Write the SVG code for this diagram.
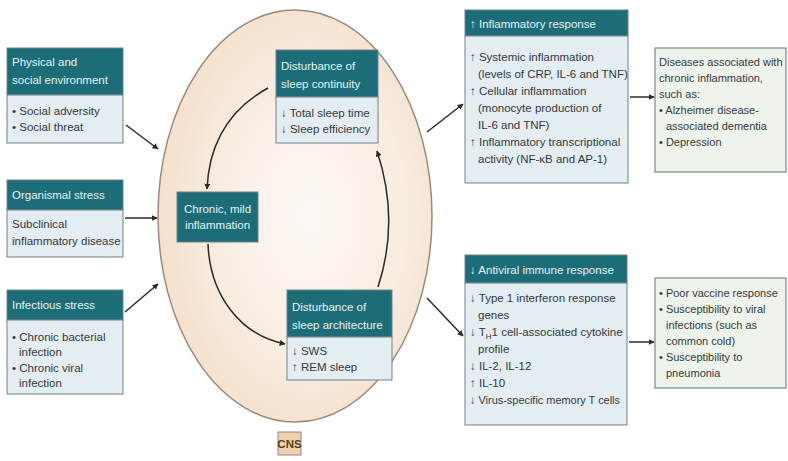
<svg xmlns="http://www.w3.org/2000/svg" width="788" height="461" viewBox="0 0 788 461">
<defs>
<radialGradient id="eg" cx="0.55" cy="0.5" r="0.55">
<stop offset="0" stop-color="#fdf9f5"/>
<stop offset="0.6" stop-color="#f9ede2"/>
<stop offset="1" stop-color="#f4e0cd"/>
</radialGradient>
<marker id="ah" viewBox="0 0 10 10" refX="9" refY="5" markerWidth="6" markerHeight="6" orient="auto" markerUnits="userSpaceOnUse">
<path d="M0,0 L10,5 L0,10 z" fill="#2a2a2a"/>
</marker>
<style>
.hd{fill:#1c6d78;stroke:#6f8388;stroke-width:1}
.bd{fill:#e3edf2;stroke:#6f8388;stroke-width:1}
.gr{fill:#eef4ec;stroke:#7b8a82;stroke-width:1.2}
text{font-family:"Liberation Sans",Arial,sans-serif;font-size:11.5px}
.ht{fill:#e4f4f4}
.bt{fill:#333a3e}
.sm{font-size:11px}
.cn{stroke:#2a2a2a;stroke-width:1.5;fill:none;marker-end:url(#ah)}
</style>
</defs>
<rect width="788" height="461" fill="#ffffff"/>
<g id="cns">
<ellipse cx="295" cy="216" rx="137" ry="206" fill="url(#eg)" stroke="#9b8a7a" stroke-width="1.5"/>
<rect x="278" y="432" width="23" height="23" fill="#efd2ad" stroke="#8a8a8a" stroke-width="1"/>
<text x="289.5" y="448" text-anchor="middle" font-size="10" font-weight="bold" fill="#5a3b20">CNS</text>
</g>
<g id="connectors">
<line class="cn" x1="126" y1="125" x2="158" y2="149"/>
<line class="cn" x1="125" y1="218" x2="157" y2="218"/>
<line class="cn" x1="125" y1="312" x2="158" y2="284"/>
<path class="cn" d="M268,88 Q210,120 207,189"/>
<path class="cn" d="M208,244 C210,295 240,335 285,344"/>
<path class="cn" d="M378,287 Q400,220 377,151"/>
<line class="cn" x1="427" y1="132" x2="463" y2="104"/>
<line class="cn" x1="427" y1="298" x2="463" y2="336"/>
<line class="cn" x1="630" y1="97" x2="654" y2="97"/>
<line class="cn" x1="629" y1="342" x2="654" y2="342"/>
</g>
<g id="physical">
<rect class="hd" x="7" y="48" width="116" height="47"/>
<rect class="bd" x="7" y="95" width="116" height="48"/>
<text class="ht" x="12" y="66">Physical and</text>
<text class="ht" x="12" y="84">social environment</text>
<text class="bt" x="12" y="115">• Social adversity</text>
<text class="bt" x="12" y="131">• Social threat</text>
</g>
<g id="organismal">
<rect class="hd" x="7" y="180" width="116" height="30"/>
<rect class="bd" x="7" y="210" width="116" height="47"/>
<text class="ht" x="12" y="199">Organismal stress</text>
<text class="bt" x="12" y="228">Subclinical</text>
<text class="bt" x="12" y="245">inflammatory disease</text>
</g>
<g id="infectious">
<rect class="hd" x="7" y="290" width="116" height="30"/>
<rect class="bd" x="7" y="320" width="116" height="74"/>
<text class="ht" x="12" y="309">Infectious stress</text>
<text class="bt" x="12" y="341">• Chronic bacterial</text>
<text class="bt" x="19" y="356">infection</text>
<text class="bt" x="12" y="372">• Chronic viral</text>
<text class="bt" x="19" y="387">infection</text>
</g>
<g id="chronic">
<rect class="hd" x="177" y="192" width="81" height="50"/>
<text class="ht" x="217.5" y="213" text-anchor="middle">Chronic, mild</text>
<text class="ht" x="217.5" y="229" text-anchor="middle">inflammation</text>
</g>
<g id="continuity">
<rect class="hd" x="276" y="50" width="102" height="47"/>
<rect class="bd" x="276" y="97" width="102" height="46"/>
<text class="ht" x="281" y="70">Disturbance of</text>
<text class="ht" x="281" y="88">sleep continuity</text>
<text class="bt" x="281" y="117">↓ Total sleep time</text>
<text class="bt" x="281" y="133">↓ Sleep efficiency</text>
</g>
<g id="architecture">
<rect class="hd" x="287" y="290" width="105" height="47"/>
<rect class="bd" x="287" y="337" width="105" height="43"/>
<text class="ht" x="292" y="311">Disturbance of</text>
<text class="ht" x="292" y="329">sleep architecture</text>
<text class="bt" x="292" y="355">↓ SWS</text>
<text class="bt" x="292" y="371">↑ REM sleep</text>
</g>
<g id="inflammatory">
<rect class="hd" x="465" y="10" width="163" height="26"/>
<rect class="bd" x="465" y="36" width="163" height="147"/>
<text class="ht" x="470" y="28" font-size="12.5">↑ Inflammatory response</text>
<text class="bt" x="470" y="61">↑ Systemic inflammation</text>
<text class="bt" x="478" y="78">(levels of CRP, IL-6 and TNF)</text>
<text class="bt" x="470" y="95">↑ Cellular inflammation</text>
<text class="bt" x="478" y="112">(monocyte production of</text>
<text class="bt" x="478" y="129">IL-6 and TNF)</text>
<text class="bt" x="470" y="146">↑ Inflammatory transcriptional</text>
<text class="bt" x="478" y="163">activity (NF-κB and AP-1)</text>
</g>
<g id="antiviral">
<rect class="hd" x="465" y="255" width="162" height="28"/>
<rect class="bd" x="465" y="283" width="162" height="142"/>
<text class="ht" x="470" y="274" font-size="12.5">↓ Antiviral immune response</text>
<text class="bt" x="470" y="302">↓ Type 1 interferon response</text>
<text class="bt" x="478" y="319">genes</text>
<text class="bt" x="470" y="336">↓ T<tspan font-size="8" dy="3">H</tspan><tspan dy="-3">1 cell-associated cytokine</tspan></text>
<text class="bt" x="478" y="353">profile</text>
<text class="bt" x="470" y="370">↓ IL-2, IL-12</text>
<text class="bt" x="470" y="387">↑ IL-10</text>
<text class="bt" x="470" y="404" textLength="150" lengthAdjust="spacingAndGlyphs">↓ Virus-specific memory T cells</text>
</g>
<g id="diseases">
<rect class="gr" x="655" y="48" width="131" height="124"/>
<text class="bt sm" x="659" y="66">Diseases associated with</text>
<text class="bt sm" x="659" y="82">chronic inflammation,</text>
<text class="bt sm" x="659" y="98">such as:</text>
<text class="bt sm" x="659" y="114">• Alzheimer disease-</text>
<text class="bt sm" x="666" y="130">associated dementia</text>
<text class="bt sm" x="659" y="146">• Depression</text>
</g>
<g id="susceptibility">
<rect class="gr" x="655" y="278" width="131" height="110"/>
<text class="bt sm" x="659" y="297">• Poor vaccine response</text>
<text class="bt sm" x="659" y="313">• Susceptibility to viral</text>
<text class="bt sm" x="666" y="329">infections (such as</text>
<text class="bt sm" x="666" y="345">common cold)</text>
<text class="bt sm" x="659" y="361">• Susceptibility to</text>
<text class="bt sm" x="666" y="377">pneumonia</text>
</g>
</svg>
